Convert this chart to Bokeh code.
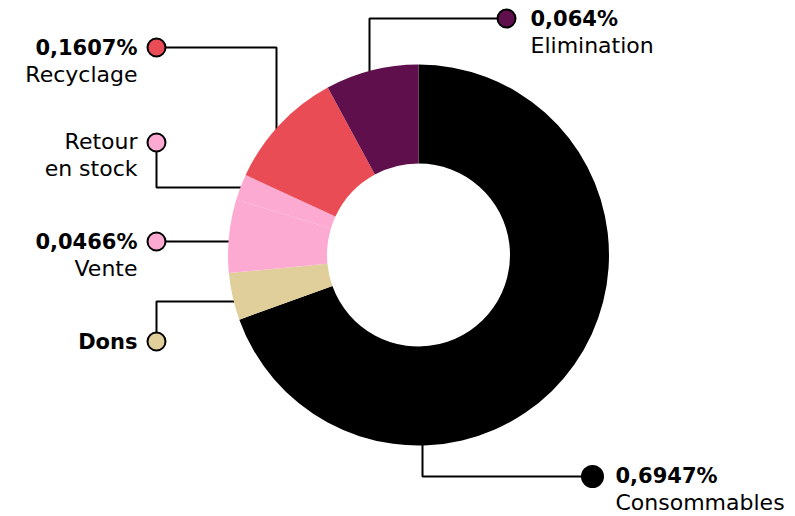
import math
from bokeh.plotting import figure
from bokeh.models import Range1d, ColumnDataSource
from bokeh.core.properties import value
from bokeh.embed import file_html
from bokeh.resources import INLINE

# ---- data ----
categories = ["Consommables", "Dons", "Vente", "Retour en stock", "Recyclage", "Elimination"]
shares = [0.6947, 0.040, 0.062, 0.022, 0.102, 0.079]
pct_labels = ["0,6947%", "", "0,0466%", "", "0,1607%", "0,064%"]
colors = ["#000000", "#e0ce9b", "#fdaad3", "#fdaad3", "#e94c55", "#5f0f4b"]

# ---- layout (image pixel coordinates) ----
W, H = 795, 516
def Y(v):
    return H - v

cx, cy = 418, 254.5
r_in, r_out = 91.5, 190.5

leaders = {
    "Consommables": [(592, 476), (422, 476), (422, 430)],
    "Dons": [(156, 341), (156, 301), (245, 301)],
    "Vente": [(156, 241), (240, 241)],
    "Retour en stock": [(156, 142), (156, 187), (250, 187)],
    "Recyclage": [(156, 47), (276, 47), (276, 140)],
    "Elimination": [(506, 18), (369, 18), (369, 90)],
}
label_pos = {
    "Consommables": (615, 475, "left"),
    "Dons": (137, 341, "right"),
    "Vente": (137, 241, "right"),
    "Retour en stock": (137, 141, "right"),
    "Recyclage": (137, 47, "right"),
    "Elimination": (530, 18, "left"),
}

p = figure(width=W, height=H, output_backend="svg", toolbar_location=None,
           x_range=Range1d(0, W), y_range=Range1d(0, H), min_border=0)
p.axis.visible = False
p.grid.visible = False
p.outline_line_color = None
p.background_fill_color = "white"
p.border_fill_color = "white"

for cat in categories:
    pts = leaders[cat]
    p.line([q[0] for q in pts], [Y(q[1]) for q in pts], line_color="black", line_width=2)

total = sum(shares)
starts, ends = [], []
cum = 0.0
for s in shares:
    a0 = math.pi / 2 - 2 * math.pi * cum / total
    cum += s
    a1 = math.pi / 2 - 2 * math.pi * cum / total
    starts.append(a1)
    ends.append(a0)
src = ColumnDataSource(dict(start=starts, end=ends, color=colors))
p.annular_wedge(x=cx, y=Y(cy), inner_radius=r_in, outer_radius=r_out,
                start_angle="start", end_angle="end", fill_color="color",
                line_color=None, source=src)

mx = [leaders[c][0][0] for c in categories]
my = [Y(leaders[c][0][1]) for c in categories]
msize = [21 if c == "Consommables" else 18 for c in categories]
p.scatter(mx, my, size=msize, fill_color=colors, line_color="black", line_width=2)

LH = 27
bold = dict(x=[], y=[], text=[], align=[])
norm = dict(x=[], y=[], text=[], align=[])
for cat, pct in zip(categories, pct_labels):
    x, yb, al = label_pos[cat]
    if cat == "Dons":
        bold["x"].append(x); bold["y"].append(Y(yb)); bold["text"].append(cat); bold["align"].append(al)
        continue
    if pct:
        bold["x"].append(x); bold["y"].append(Y(yb)); bold["text"].append(pct); bold["align"].append(al)
        lines = [cat]
        y0 = yb + LH
    else:
        lines = ["Retour", "en stock"] if cat == "Retour en stock" else [cat]
        y0 = yb
    for i, t in enumerate(lines):
        norm["x"].append(x); norm["y"].append(Y(y0 + i * LH)); norm["text"].append(t); norm["align"].append(al)

p.text(x="x", y="y", text="text", text_align="align", source=ColumnDataSource(bold),
       text_font=value("DejaVu Sans"), text_font_style="bold", text_font_size="21px",
       text_baseline="alphabetic", text_color="black")
p.text(x="x", y="y", text="text", text_align="align", source=ColumnDataSource(norm),
       text_font=value("DejaVu Sans"), text_font_style="normal", text_font_size="22px",
       text_baseline="alphabetic", text_color="black")

open("out.html", "w").write(file_html(p, INLINE))
